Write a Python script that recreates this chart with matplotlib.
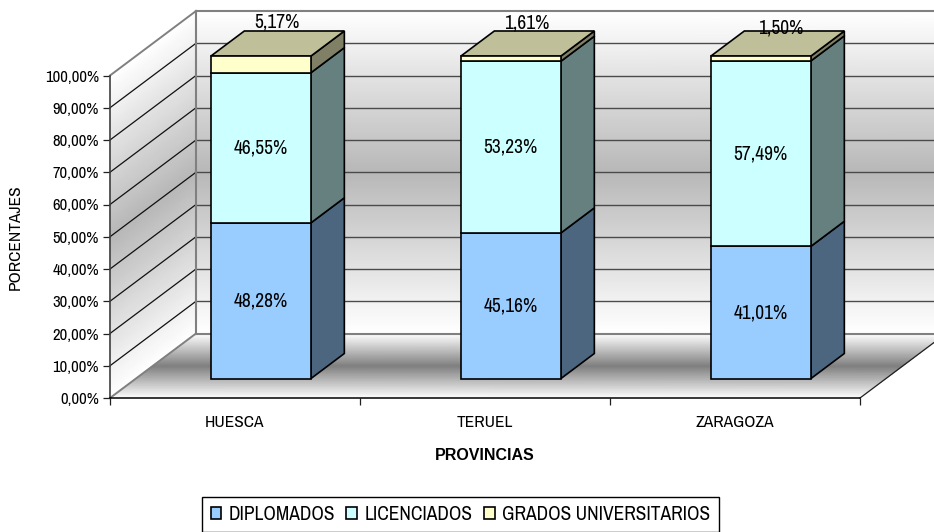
import numpy as np
import matplotlib
matplotlib.use("Agg")
import matplotlib.pyplot as plt
from matplotlib.patches import Polygon

provinces = ["HUESCA", "TERUEL", "ZARAGOZA"]
series_names = ["DIPLOMADOS", "LICENCIADOS", "GRADOS UNIVERSITARIOS"]
diplomados = [48.28, 45.16, 41.01]
licenciados = [46.55, 53.23, 57.49]
grados = [5.17, 1.61, 1.50]
y_ticks = [0, 10, 20, 30, 40, 50, 60, 70, 80, 90, 100]

front_colors = ["#99CCFF", "#CCFFFF", "#FFFFCC"]
side_colors = ["#4D6680", "#668080", "#808066"]
top_color = "#BFBF99"

FONT = ["Archivo Narrow", "Liberation Sans"]
W, H = 934, 532

# one full unit of depth moves a point this far, in data units
DEPTH_X = 86 / 250
DEPTH_Y = 20.0
BAR_NEAR, BAR_FAR = 0.30, 0.69
BAR_W = 0.40


def pt(x, y, d):
    return (x + d * DEPTH_X, y + d * DEPTH_Y)


def shade(ax, xs, ys, values):
    m = ax.pcolormesh(xs, ys, values, shading="gouraud", cmap="gray", vmin=0, vmax=1, zorder=1)
    m.set_clip_on(False)


fig = plt.figure(figsize=(W / 100, H / 100), dpi=100, facecolor="white")
ax = fig.add_axes([110 / W, (H - 398) / H, 750 / W, 322.5 / H])
ax.patch.set_alpha(0)

# walls and floor
levels = np.linspace(0, 100, 41)
wall_tone = 1 - 0.28 * (1 - np.abs(levels - 50) / 50)

# back wall
xb, yb = np.meshgrid([DEPTH_X, 3 + DEPTH_X], levels + DEPTH_Y)
shade(ax, xb, yb, np.column_stack([wall_tone, wall_tone]))
# left wall
dd = np.array([0, 1])
xl = np.tile(dd * DEPTH_X, (len(levels), 1))
yl = np.column_stack([levels, levels + DEPTH_Y])
shade(ax, xl, yl, np.column_stack([wall_tone, wall_tone]))
# floor
floor_d = np.linspace(0, 1, 41)
floor_tone = 1 - 0.5 * (1 - np.abs(floor_d - 0.5) / 0.5)
xf = np.column_stack([floor_d * DEPTH_X, 3 + floor_d * DEPTH_X])
yf = np.column_stack([floor_d * DEPTH_Y, floor_d * DEPTH_Y])
shade(ax, xf, yf, np.column_stack([floor_tone, floor_tone]))

# grid lines on the walls
for v in y_ticks:
    edge = v in (0, 100)
    ax.plot([0, DEPTH_X], [v, v + DEPTH_Y], color="#808080" if edge else "#101010",
            lw=1.4 if edge else 0.9, clip_on=False, zorder=2)
    ax.plot([DEPTH_X, 3 + DEPTH_X], [v + DEPTH_Y, v + DEPTH_Y],
            color="#808080" if edge else "#4a4a4a", lw=1.5 if edge else 1.0,
            clip_on=False, zorder=2)
ax.plot([DEPTH_X, DEPTH_X], [DEPTH_Y, 100 + DEPTH_Y], color="#808080", lw=1.5,
        clip_on=False, zorder=2)
ax.plot([3, 3 + DEPTH_X], [0, DEPTH_Y], color="#202020", lw=0.9, clip_on=False, zorder=2)

# bars
stack = np.array([diplomados, licenciados, grados])
bottoms = np.vstack([np.zeros(3), np.cumsum(stack, axis=0)[:-1]])
x_pos = np.arange(len(provinces)) + 0.5
near_x = x_pos + BAR_NEAR * DEPTH_X
near_y = BAR_NEAR * DEPTH_Y

for s in range(3):
    ax.bar(near_x, stack[s], BAR_W, bottom=bottoms[s] + near_y, color=front_colors[s],
           edgecolor="black", linewidth=1.2, label=series_names[s], clip_on=False, zorder=4)
    for i in range(3):
        x1 = x_pos[i] + BAR_W / 2
        b, t = bottoms[s][i], bottoms[s][i] + stack[s][i]
        side = [pt(x1, b, BAR_NEAR), pt(x1, b, BAR_FAR), pt(x1, t, BAR_FAR), pt(x1, t, BAR_NEAR)]
        ax.add_patch(Polygon(side, closed=True, facecolor=side_colors[s], edgecolor="black",
                             linewidth=1.2, clip_on=False, zorder=3))

for i in range(3):
    x0, x1 = x_pos[i] - BAR_W / 2, x_pos[i] + BAR_W / 2
    t = stack[:, i].sum()
    top = [pt(x0, t, BAR_NEAR), pt(x1, t, BAR_NEAR), pt(x1, t, BAR_FAR), pt(x0, t, BAR_FAR)]
    ax.add_patch(Polygon(top, closed=True, facecolor=top_color, edgecolor="black",
                         linewidth=1.2, clip_on=False, zorder=3))

# value labels
top_offsets = [(16, 42.5), (16, 35.5), (19.5, 30.5)]
for s in range(3):
    for i in range(3):
        text = f"{stack[s][i]:.2f}%".replace(".", ",")
        yc = bottoms[s][i] + stack[s][i] / 2 + near_y
        off = top_offsets[i] if s == 2 else (0, 0)
        ax.annotate(text, (near_x[i], yc), xytext=(off[0] * 0.72, off[1] * 0.72),
                    textcoords="offset points", ha="center", va="center", fontsize=14,
                    family=FONT, color="black", zorder=6, annotation_clip=False)

# axes
ax.set_xlim(0, 3)
ax.set_ylim(0, 100)
ax.spines["top"].set_visible(False)
ax.spines["right"].set_visible(False)
ax.spines["left"].set_color("#404040")
ax.spines["left"].set_linewidth(1.2)
ax.spines["bottom"].set_linewidth(1.1)
ax.set_yticks(y_ticks)
ax.set_yticklabels([f"{v},00%" for v in y_ticks], family=FONT, fontsize=12)
ax.set_xticks([0, 1, 2, 3])
ax.set_xticklabels([])
ax.set_xticks(x_pos, minor=True)
ax.set_xticklabels(provinces, minor=True, family=FONT, fontsize=12.5)
ax.tick_params(axis="x", which="minor", length=0, pad=12)
ax.tick_params(axis="x", which="major", length=5, width=0.9, color="#202020")
ax.tick_params(axis="y", length=5, width=0.9, color="#202020", pad=3)

fig.text(485 / W, 1 - 456 / H, "PROVINCIAS", family="Liberation Sans", fontweight="bold",
         fontsize=11.5, ha="center", va="center")
fig.text(15 / W, 1 - 237 / H, "PORCENTAJES", family=FONT, fontsize=12.5, rotation=90,
         ha="center", va="center")

handles, labels = ax.get_legend_handles_labels()
leg = fig.legend(handles, labels, ncol=3, loc="center", bbox_to_anchor=(460.5 / W, 1 - 514.5 / H),
                 prop={"family": FONT, "size": 14}, fancybox=False, edgecolor="black",
                 framealpha=1, handlelength=0.55, handleheight=0.55, handletextpad=0.4,
                 columnspacing=0.56, borderpad=0.42, borderaxespad=0)
leg.get_frame().set_linewidth(1.0)

fig.savefig("out.png", dpi=100)
